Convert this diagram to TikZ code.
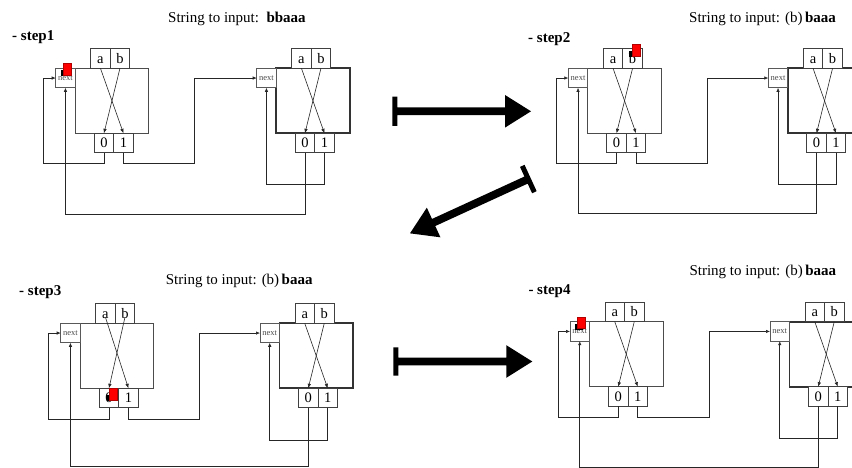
\documentclass[tikz,border=0pt]{standalone}
\usepackage{fontspec}
\setmainfont{Liberation Serif}
\usetikzlibrary{arrows.meta,calc}
\tikzset{
  cellbox/.style={draw=black!75, line width=0.8pt, fill=white, minimum width=19.5pt, minimum height=19.5pt, inner sep=0pt, outer sep=0pt, text height=9.8pt, text depth=0pt, font=\fontsize{14.5}{14.5}\selectfont},
  nextbox/.style={draw=black!65, line width=0.7pt, fill=white, minimum width=19.5pt, minimum height=19.5pt, inner sep=0pt, outer sep=0pt, text=black!70, font=\fontsize{8.5}{8.5}\selectfont},
  thinbox/.style={draw=black!70, line width=0.8pt, minimum width=73.5pt, minimum height=65pt, inner sep=0pt, outer sep=0pt},
  thickbox/.style={thinbox, draw=black!80, line width=1.8pt},
  link/.style={draw=black!85, line width=0.6pt, -{Latex[length=4pt,width=3.5pt]}},
  crossarr/.style={draw=black!85, line width=0.6pt, -{Latex[length=4.5pt,width=3.5pt]}},
  title/.style={anchor=west, inner sep=0pt, font=\fontsize{15}{15}\selectfont},
  steplabel/.style={anchor=west, inner sep=0pt, font=\bfseries\fontsize{15}{15}\selectfont},
  bigarr/.style={fill=black},
  flagred/.style={fill=red, draw=red!70!black, line width=0.3pt},
}
% #1 name, #2 X, #3 Y, #4 box style, #5 start shift of crossing lines
\newcommand\fsmstate[5]{%
  \node[#4, anchor=north west] (#1box) at (#2+19.5,#3) {};
  \node[nextbox, anchor=north west] (#1n) at (#2,#3) {next};
  \node[cellbox, anchor=south west] (#1a) at (#2+35,#3) {a};
  \node[cellbox, anchor=south west] (#1b) at (#2+54.5,#3) {b};
  \node[cellbox, anchor=north west] (#1z) at (#2+38.5,#3+65) {0};
  \node[cellbox, anchor=north west] (#1o) at (#2+58,#3+65) {1};
  \draw[crossarr] ([yshift=#5]#1a.south) -- (#1o.north);
  \draw[crossarr] ([yshift=#5]#1b.south) -- (#1z.north);
}
% #1 panel prefix, #2 drop of the long return line
\newcommand\fsmlinks[2]{%
  \draw[link] (#1Lz.south) -- ++(0,11) -| ($(#1Ln.west)+(-12,0)$) -- (#1Ln.west);
  \draw[link] (#1Lo.south) -- ++(0,11) -| ($(#1Ln.west)+(139,0)$) -- (#1Rn.west);
  \draw[link] (#1Rz.south) -- ++(0,#2) -| (#1Ln.south);
  \draw[link] (#1Ro.south) -- ++(0,32) -| (#1Rn.south);
}
\newcommand\redflag[2]{%
  \fill[black] (#1-2.5,#2+6.5) rectangle (#1+5,#2+12.5);
  \fill[flagred] (#1,#2) rectangle (#1+8,#2+11.5);
}
% #1 start, #2 angle, #3 length, #4 bar half length
\newcommand\bigarrow[4]{%
  \begin{scope}[shift={#1}, rotate=#2]
    \fill[bigarr] (0,-#4) -- (5,-#4) -- (5,-3.9) -- (#3-26,-3.9) -- (#3-26,-16.3) -- (#3,0) -- (#3-26,16.3) -- (#3-26,3.9) -- (5,3.9) -- (5,#4) -- (0,#4) -- cycle;
  \end{scope}%
}
\begin{document}
\begin{tikzpicture}[x=1pt,y=-1pt]
\useasboundingbox (0,0) rectangle (852,468);
\fill[white] (0,0) rectangle (852,468);
\clip (0,0) rectangle (852,468);

% titles
\node[title] (t1) at (168,18.5) {String to input:\ \ \textbf{bbaaa}};
\node[title] (t2) at (689,18.7) {String to input: (b)\,\textbf{baaa}};
\node[title] (t3) at (165.7,281) {String to input: (b)\,\textbf{baaa}};
\node[title] (t4) at (689.3,272.3) {String to input: (b)\,\textbf{baaa}};
\node[steplabel] (s1) at (12,37) {- step1};
\node[steplabel] (s2) at (528,39) {- step2};
\node[steplabel] (s3) at (19,291.7) {- step3};
\node[steplabel] (s4) at (528.3,291) {- step4};

% panel 1
\fsmstate{pAL}{55.7}{68.3}{thinbox}{0pt}
\fsmstate{pAR}{256.7}{68.3}{thickbox}{0pt}
\fsmlinks{pA}{61.5}
\redflag{63.3}{63.5}

% panel 2
\fsmstate{pBL}{568.3}{68.3}{thinbox}{0pt}
\fsmstate{pBR}{768.3}{68.3}{thickbox}{0pt}
\fsmlinks{pB}{60.7}
\redflag{631.8}{44.5}

% panel 3
\fsmstate{pCL}{60.7}{323.3}{thinbox}{6pt}
\fsmstate{pCR}{260}{323.3}{thickbox}{0pt}
\fsmlinks{pC}{58.4}
\redflag{109.3}{388.3}

% panel 4
\fsmstate{pDL}{570}{321.7}{thinbox}{0pt}
\fsmstate{pDR}{770}{321.7}{thickbox}{0pt}
\fsmlinks{pD}{60.6}
\redflag{577.5}{317}

% big arrows
\bigarrow{(392.3,111.3)}{0}{138.7}{14.7}
\bigarrow{(393.3,361.5)}{0}{139}{14.2}
\bigarrow{(530.6,178)}{204.65}{132.7}{14.5}
\end{tikzpicture}
\end{document}
